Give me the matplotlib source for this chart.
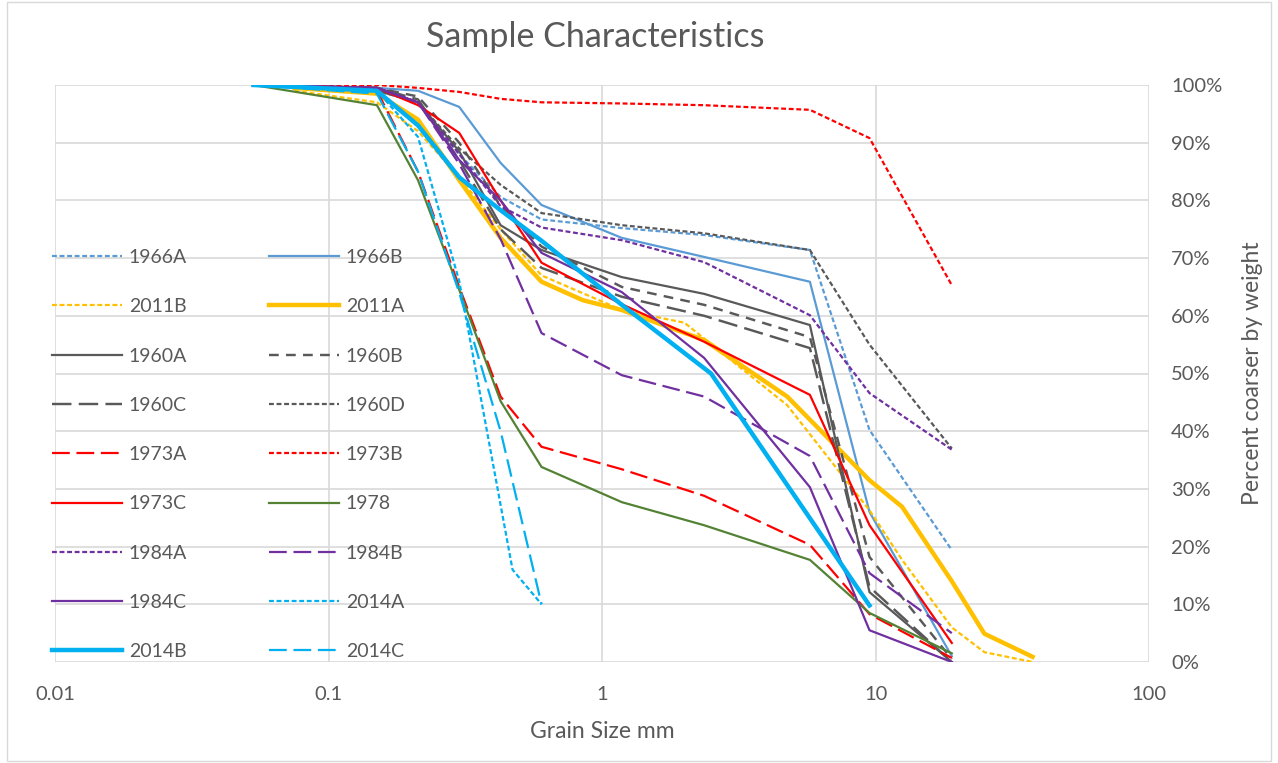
import matplotlib.pyplot as plt
from matplotlib.ticker import FixedLocator, FuncFormatter, NullLocator
from matplotlib.patches import Rectangle

# Grain size (mm) for each sample, and percent coarser by weight
x_std = [0.053, 0.15, 0.212, 0.3, 0.425, 0.6, 1.18, 2.36, 5.75, 9.5, 19]
x_2011a = [0.075, 0.15, 0.212, 0.3, 0.425, 0.6, 0.85, 1.18, 2.36, 4.75, 9.5, 12.5, 19, 25, 37.5]
x_2011b = [0.075, 0.15, 0.212, 0.3, 0.425, 0.6, 1.18, 2.0, 4.75, 9.5, 12.5, 19, 25, 37.5]
x_2014a = [0.053, 0.15, 0.212, 0.3, 0.47, 0.6]
x_2014b = [0.053, 0.15, 0.212, 0.3, 0.425, 0.6, 1.18, 2.5, 9.5]
x_2014c = [0.053, 0.15, 0.212, 0.3, 0.425, 0.6]

y_1966a = [100, 99, 97, 88, 80.6, 76.7, 75.2, 74, 71.4, 40.2, 19.4]
y_1966b = [100, 99.5, 99, 96.2, 86.5, 79.2, 73.5, 70.2, 65.9, 26, 1]
y_2011b = [99, 97, 92, 84, 75, 67, 61, 58.8, 44.5, 26.3, 17.7, 6, 1.7, 0]
y_2011a = [99.5, 98.5, 94, 83.5, 73.5, 65.9, 62.7, 61, 55.8, 46, 31.5, 26.9, 14, 4.9, 0.9]
y_1960a = [100, 99, 97, 88.5, 75.7, 71.4, 66.7, 63.8, 58.4, 12.1, 0]
y_1960b = [100, 99.5, 98, 90, 79, 72, 65, 61.9, 56.3, 18.2, 0.5]
y_1960c = [100, 99.5, 97.5, 87, 75, 68.3, 63.3, 60, 54.4, 13, 0]
y_1960d = [100, 99.5, 97, 89, 82.7, 77.8, 75.7, 74.3, 71.4, 55, 37]
y_1973a = [100, 99, 85, 65, 46, 37.3, 33.4, 28.8, 20.3, 8.3, 0.7]
y_1973b = [100, 100, 99.5, 98.8, 97.6, 97, 96.8, 96.5, 95.7, 90.8, 65.3]
y_1973c = [100, 99.5, 96.5, 91.7, 80, 69.2, 62, 55.5, 46.3, 23.7, 3.3]
y_1978 = [100, 96.5, 83.5, 64.5, 45.2, 33.8, 27.7, 23.7, 17.7, 8.5, 1.5]
y_1984a = [100, 99.5, 97, 88, 79, 75.3, 73.1, 69.3, 60.1, 46.6, 36.8]
y_1984b = [100, 99.5, 97, 86.3, 73.3, 57, 49.7, 46, 35.7, 15.4, 5]
y_1984c = [100, 99.5, 97, 87, 80, 70.9, 64.1, 52.7, 30.3, 5.5, 0]
y_2014a = [100, 99, 91, 66, 16, 10]
y_2014b = [100, 99, 93, 84, 78.3, 73, 61.9, 50, 9.8]
y_2014c = [100, 98.5, 85, 64, 40, 10]

x_ticks = [0.01, 0.1, 1, 10, 100]
x_tick_labels = ["0.01", "0.1", "1", "10", "100"]
y_ticks = [0, 10, 20, 30, 40, 50, 60, 70, 80, 90, 100]

BLUE = "#5B9BD5"
GOLD = "#FFC000"
GREY = "#595959"
RED = "#FF0000"
GREEN = "#548235"
PURPLE = "#7030A0"
CYAN = "#00B0F0"
TXT = "#595959"

SHORT = (0, (2.2, 1.2))
DASH = (0, (4, 3))
LONG = (0, (8, 3))

# Excel series order (legend reads row by row)
series = [
    ("1966A", x_std, y_1966a, BLUE, SHORT, 1.6),
    ("1966B", x_std, y_1966b, BLUE, "-", 1.6),
    ("2011B", x_2011b, y_2011b, GOLD, SHORT, 1.6),
    ("2011A", x_2011a, y_2011a, GOLD, "-", 3.2),
    ("1960A", x_std, y_1960a, GREY, "-", 1.6),
    ("1960B", x_std, y_1960b, GREY, DASH, 1.75),
    ("1960C", x_std, y_1960c, GREY, LONG, 1.75),
    ("1960D", x_std, y_1960d, GREY, SHORT, 1.6),
    ("1973A", x_std, y_1973a, RED, LONG, 1.6),
    ("1973B", x_std, y_1973b, RED, SHORT, 1.6),
    ("1973C", x_std, y_1973c, RED, "-", 1.6),
    ("1978", x_std, y_1978, GREEN, "-", 1.6),
    ("1984A", x_std, y_1984a, PURPLE, SHORT, 1.6),
    ("1984B", x_std, y_1984b, PURPLE, LONG, 1.6),
    ("1984C", x_std, y_1984c, PURPLE, "-", 1.6),
    ("2014A", x_2014a, y_2014a, CYAN, SHORT, 1.6),
    ("2014B", x_2014b, y_2014b, CYAN, "-", 3.2),
    ("2014C", x_2014c, y_2014c, CYAN, LONG, 1.6),
]

plt.rcParams["font.family"] = ["Lato", "DejaVu Sans"]

W, H = 1278, 763
fig = plt.figure(figsize=(W / 100, H / 100), dpi=100)
ax = fig.add_axes([55.4 / W, 1 - 662 / H, (1149 - 55.4) / W, (662 - 85) / H])

handles = []
for name, xs, ys, col, ls, lw in series:
    h, = ax.plot(xs, ys, color=col, linestyle=ls, linewidth=lw, label=name,
                 solid_joinstyle="round", dash_capstyle="butt")
    handles.append(h)

ax.set_xscale("log")
ax.set_xlim(0.01, 100)
ax.set_ylim(0, 100)
ax.xaxis.set_major_locator(FixedLocator(x_ticks))
ax.xaxis.set_minor_locator(NullLocator())
ax.set_xticklabels(x_tick_labels)
ax.set_yticks(y_ticks)
ax.yaxis.set_major_formatter(FuncFormatter(lambda v, p: f"{v:.0f}%"))
ax.yaxis.tick_right()
ax.yaxis.set_label_position("right")

for s in ax.spines.values():
    s.set_visible(False)
ax.grid(True, color="#D9D9D9", linewidth=1.2)
ax.set_axisbelow(True)
ax.tick_params(length=0, labelsize=14.5, colors=TXT)
ax.tick_params(axis="x", pad=17)
ax.tick_params(axis="y", pad=16)

ax.set_xlabel("Grain Size mm", fontsize=16.5, color=TXT, labelpad=13)
ax.set_ylabel("Percent coarser by weight", fontsize=16.5, color=TXT, labelpad=14)
fig.text(595 / W, 1 - 37 / H, "Sample Characteristics", fontsize=24.5,
         color=TXT, ha="center", va="center")

# legend: matplotlib fills columns first, so reorder
order = handles[0::2] + handles[1::2]
ax.legend(order, [h.get_label() for h in order], ncol=2, loc="upper left",
          bbox_to_anchor=(-0.003, (662 - 249) / 577), frameon=False,
          fontsize=14, labelcolor=TXT, handlelength=3.6, handletextpad=0.35,
          columnspacing=4.2, labelspacing=1.66, borderpad=0, borderaxespad=0)

fig.patches.append(Rectangle((7 / W, 0.002), 1 - 14 / W, 0.996, transform=fig.transFigure,
                             fill=False, edgecolor="#D9D9D9", linewidth=1))

fig.savefig("out.png", dpi=100)
